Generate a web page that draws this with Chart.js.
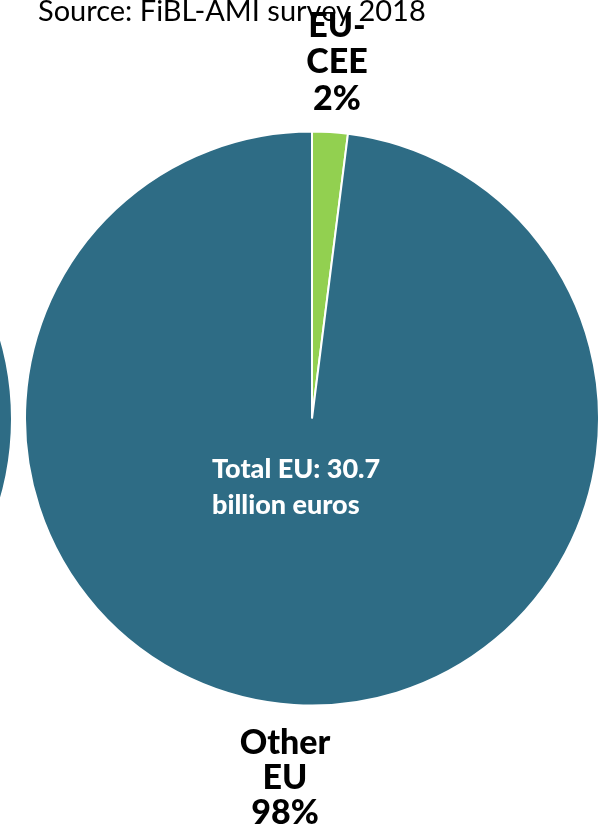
<!DOCTYPE html>
<html>
<head>
<meta charset="utf-8">
<script src="https://cdn.jsdelivr.net/npm/chart.js@4/dist/chart.umd.min.js"></script>
<style>
  html, body { margin: 0; padding: 0; background: #fff; overflow: hidden; }
  #wrap { position: relative; width: 602px; height: 830px; }
  #mainChart { position: absolute; left: 0; top: 0; }
  #sideChart { position: absolute; left: -567px; top: 129px; }
</style>
</head>
<body>
<div id="wrap">
  <canvas id="sideChart" width="580" height="580"></canvas>
  <canvas id="mainChart" width="602" height="830"></canvas>
</div>
<script>
// Organic market share inside the EU
const categories = [['EU-', 'CEE'], ['Other', 'EU']];
const shares = [2, 98];
const sliceColors = ['#92d050', '#2e6c85'];
const totalText = ['Total EU: 30.7', 'billion euros'];
const sourceText = 'Source: FiBL-AMI survey 2018';

// neighbouring pie, only its edge is visible
const sideValues = [100];
const sideColors = ['#2e6c85'];

const labelFont = '900 34px Lato, "DejaVu Sans", sans-serif';

const labelsPlugin = {
    id: 'pieLabels',
    afterDraw(chart) {
        const ctx = chart.ctx;
        const arc = chart.getDatasetMeta(0).data[0];
        const cx = arc.x, cy = arc.y, r = arc.outerRadius;
        ctx.save();
        ctx.textBaseline = 'alphabetic';

        // source note
        ctx.fillStyle = '#000';
        ctx.font = '29px Lato, "DejaVu Sans", sans-serif';
        ctx.textAlign = 'left';
        ctx.fillText(sourceText, 38, 21);

        // slice labels
        ctx.font = labelFont;
        ctx.textAlign = 'center';
        const top = [...categories[0], shares[0] + '%'];
        top.forEach((line, i) => {
            ctx.fillText(line, cx + 25, cy - r - 22 - (top.length - 1 - i) * 36.5);
        });
        const bottom = [...categories[1], shares[1] + '%'];
        bottom.forEach((line, i) => {
            ctx.fillText(line, cx - 27, cy + r + 48 + i * 35);
        });

        // total inside the pie
        ctx.fillStyle = '#fff';
        ctx.font = '900 27px Lato, "DejaVu Sans", sans-serif';
        ctx.textAlign = 'left';
        totalText.forEach((line, i) => {
            ctx.fillText(line, 212, 478 + i * 36);
        });
        ctx.restore();
    }
};

const baseOptions = {
    responsive: false,
    animation: false,
    plugins: {
        legend: { display: false },
        tooltip: { enabled: false }
    }
};

const createMainChart = () => {
    const ctx = document.getElementById('mainChart').getContext('2d');
    new Chart(ctx, {
        type: 'pie',
        data: {
            labels: categories.map(c => c.join(' ')),
            datasets: [{
                data: shares,
                backgroundColor: sliceColors,
                borderColor: '#ffffff',
                borderWidth: 2
            }]
        },
        options: {
            ...baseOptions,
            layout: { padding: { left: 24, right: 2, top: 130, bottom: 123 } }
        },
        plugins: [labelsPlugin]
    });
};

const createSideChart = () => {
    const ctx = document.getElementById('sideChart').getContext('2d');
    new Chart(ctx, {
        type: 'pie',
        data: {
            labels: ['Europe'],
            datasets: [{
                data: sideValues,
                backgroundColor: sideColors,
                borderWidth: 0
            }]
        },
        options: {
            ...baseOptions,
            layout: { padding: 2 }
        }
    });
};

createSideChart();
createMainChart();
</script>
</body>
</html>
